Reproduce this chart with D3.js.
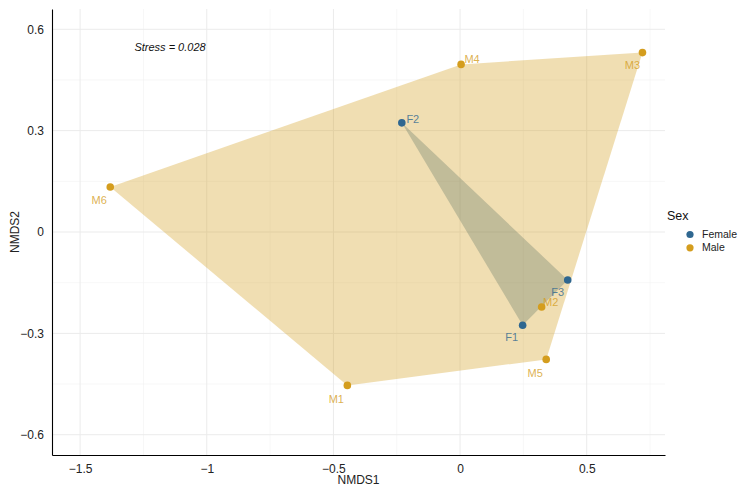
<!DOCTYPE html>
<html>
<head>
<meta charset="utf-8">
<script src="https://cdn.jsdelivr.net/npm/d3@7"></script>
<style>
  body { margin: 0; background: #fff; }
  svg text { font-family: "Liberation Sans", Arial, sans-serif; }
</style>
</head>
<body>
<div id="main"></div>
<script>
// NMDS scores
var samples = ['M1', 'M2', 'M3', 'M4', 'M5', 'M6', 'F1', 'F2', 'F3'];
var sex     = ['Male', 'Male', 'Male', 'Male', 'Male', 'Male', 'Female', 'Female', 'Female'];
var nmds1   = [-0.445, 0.322, 0.720, 0.004, 0.340, -1.381, 0.247, -0.230, 0.425];
var nmds2   = [-0.454, -0.222, 0.531, 0.496, -0.377, 0.133, -0.276, 0.323, -0.142];
var xTicks  = [-1.5, -1, -0.5, 0, 0.5];
var yTicks  = [-0.6, -0.3, 0, 0.3, 0.6];
var groups  = ['Female', 'Male'];
var stress  = 0.028;

var colors = {'Female': '#2f6790', 'Male': '#d49d1e'};

// label offsets (px), roughly where ggrepel put them
var labelOffset = {
    M1: [-11, 14], M2: [9, -5], M3: [-10, 13], M4: [11, -5], M5: [-11, 14],
    M6: [-11, 13], F1: [-11, 12], F2: [11, -4], F3: [-10, 12]
};

var W = 749, H = 493;
var margin = {top: 9, bottom: 38, left: 52, right: 84};
var width = W - margin.left - margin.right,
    height = H - margin.top - margin.bottom;

var svg = d3.select('#main').append('svg')
    .attr('width', W)
    .attr('height', H);

var g = svg.append('g')
    .attr('transform', 'translate(' + margin.left + ',' + margin.top + ')');

var x = d3.scaleLinear()
    .domain([-1.611, 0.809])
    .range([0, width]);
var y = d3.scaleLinear()
    .domain([-0.660, 0.660])
    .range([height, 0]);

var data = samples.map((s, i) => ({name: s, sex: sex[i], x: nmds1[i], y: nmds2[i]}));

// grid
var xMinor = xTicks.map(d => d + 0.25).concat([xTicks[0] - 0.25]).filter(d => d > x.domain()[0] && d < x.domain()[1]);
var yMinor = yTicks.slice(1).map(d => d - 0.15).concat([0.75, -0.75]).filter(d => d > y.domain()[0] && d < y.domain()[1]);

var grid = g.append('g').attr('class', 'grid');
grid.selectAll('.minor-x').data(xMinor).enter().append('line')
    .attr('x1', d => x(d)).attr('x2', d => x(d))
    .attr('y1', 0).attr('y2', height)
    .attr('stroke', '#f1f1f1').attr('stroke-width', 0.6);
grid.selectAll('.minor-y').data(yMinor).enter().append('line')
    .attr('y1', d => y(d)).attr('y2', d => y(d))
    .attr('x1', 0).attr('x2', width)
    .attr('stroke', '#f1f1f1').attr('stroke-width', 0.6);
grid.selectAll('.major-x').data(xTicks).enter().append('line')
    .attr('x1', d => x(d)).attr('x2', d => x(d))
    .attr('y1', 0).attr('y2', height)
    .attr('stroke', '#ebebeb').attr('stroke-width', 1);
grid.selectAll('.major-y').data(yTicks).enter().append('line')
    .attr('y1', d => y(d)).attr('y2', d => y(d))
    .attr('x1', 0).attr('x2', width)
    .attr('stroke', '#ebebeb').attr('stroke-width', 1);

// hulls, female first so the male one tints it olive
groups.forEach(function(grp){
    var pts = data.filter(d => d.sex === grp).map(d => [x(d.x), y(d.y)]);
    var hull = d3.polygonHull(pts);
    g.append('path')
        .attr('d', 'M' + hull.join('L') + 'Z')
        .attr('fill', colors[grp])
        .attr('fill-opacity', 0.34)
        .attr('stroke', 'none');
});

// points
g.selectAll('circle.pt')
    .data(data)
    .enter()
    .append('circle')
    .attr('class', 'pt')
    .attr('cx', d => x(d.x))
    .attr('cy', d => y(d.y))
    .attr('r', 3.8)
    .attr('fill', d => colors[d.sex]);

// labels
g.selectAll('text.lab')
    .data(data)
    .enter()
    .append('text')
    .attr('class', 'lab')
    .attr('x', d => x(d.x) + labelOffset[d.name][0])
    .attr('y', d => y(d.y) + labelOffset[d.name][1])
    .attr('text-anchor', 'middle')
    .attr('dy', '0.35em')
    .attr('font-size', 11)
    .attr('fill', d => colors[d.sex])
    .attr('fill-opacity', 0.8)
    .text(d => d.name);

// stress annotation
g.append('text')
    .attr('x', x(-1.145))
    .attr('y', y(0.548))
    .attr('dy', '0.35em')
    .attr('text-anchor', 'middle')
    .attr('font-size', 11)
    .attr('font-style', 'italic')
    .attr('fill', '#111')
    .text('Stress = ' + stress.toFixed(3));

// axes
var fmt = d => d === 0 ? '0' : String(d).replace('-', '\u2212');

var xAxis = g.append('g')
    .attr('transform', 'translate(0,' + height + ')')
    .call(d3.axisBottom(x).tickValues(xTicks).tickSize(0).tickPadding(9).tickFormat(fmt));
var yAxis = g.append('g')
    .call(d3.axisLeft(y).tickValues(yTicks).tickSize(0).tickPadding(8).tickFormat(fmt));

[xAxis, yAxis].forEach(function(ax){
    ax.select('.domain').attr('stroke', '#000').attr('stroke-width', 1.1);
    ax.selectAll('text')
        .attr('font-size', 12)
        .attr('fill', '#222')
        .attr('font-family', '"Liberation Sans", Arial, sans-serif');
});

svg.append('text')
    .attr('x', margin.left + width / 2)
    .attr('y', 484)
    .attr('text-anchor', 'middle')
    .attr('font-size', 12)
    .attr('fill', '#222')
    .text('NMDS1');

svg.append('text')
    .attr('transform', 'translate(19,' + (margin.top + height / 2) + ') rotate(-90)')
    .attr('text-anchor', 'middle')
    .attr('font-size', 12)
    .attr('fill', '#222')
    .text('NMDS2');

// legend
var legend = svg.append('g')
    .attr('transform', 'translate(667,0)');
legend.append('text')
    .attr('x', 0)
    .attr('y', 220)
    .attr('font-size', 12.5)
    .attr('fill', '#111')
    .text('Sex');
legend.selectAll('circle')
    .data(groups)
    .enter()
    .append('circle')
    .attr('cx', 23)
    .attr('cy', (d, i) => 234.5 + i * 13.3)
    .attr('r', 3.6)
    .attr('fill', d => colors[d]);
legend.selectAll('text.key')
    .data(groups)
    .enter()
    .append('text')
    .attr('class', 'key')
    .attr('x', 35)
    .attr('y', (d, i) => 234.5 + i * 13.3)
    .attr('dy', '0.35em')
    .attr('font-size', 10.5)
    .attr('fill', '#222')
    .text(d => d);
</script>
</body>
</html>
